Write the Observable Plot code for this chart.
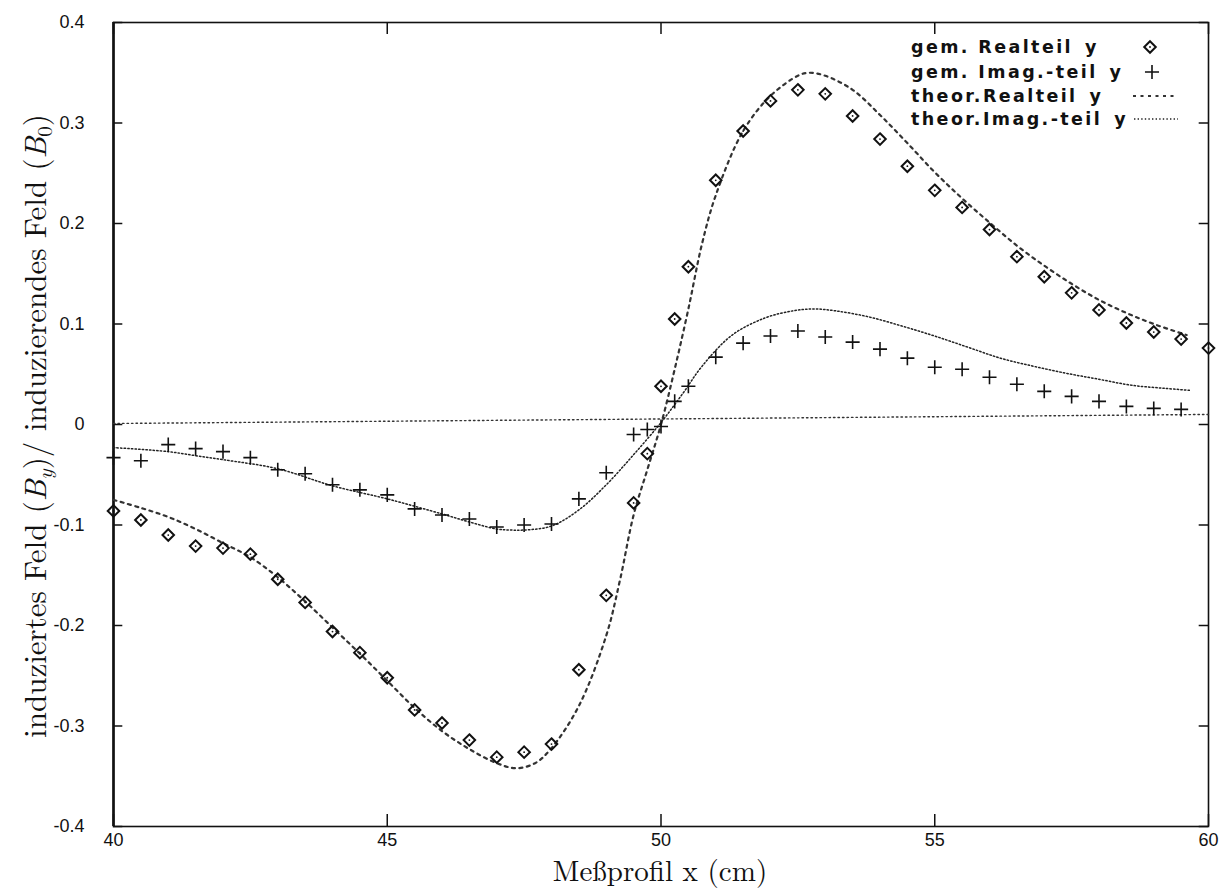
<!DOCTYPE html>
<html>
<head>
<meta charset="utf-8">
<script src="https://cdn.jsdelivr.net/npm/d3@7"></script>
<script src="https://cdn.jsdelivr.net/npm/@observablehq/plot@0.6"></script>
<style>
  html, body { margin: 0; padding: 0; background: #fff; }
  #chart { width: 1232px; height: 896px; }
</style>
</head>
<body>
<div id="chart"></div>
<script>
// ---- data ----
const measX = [40,40.5,41,41.5,42,42.5,43,43.5,44,44.5,45,45.5,46,46.5,47,47.5,48,48.5,49,49.5,49.75,50,50.25,50.5,51,51.5,52,52.5,53,53.5,54,54.5,55,55.5,56,56.5,57,57.5,58,58.5,59,59.5,60];
const realMeas = [-0.086,-0.095,-0.110,-0.121,-0.123,-0.129,-0.154,-0.177,-0.206,-0.227,-0.252,-0.284,-0.297,-0.314,-0.331,-0.326,-0.318,-0.244,-0.170,-0.078,-0.029,0.038,0.105,0.157,0.243,0.292,0.322,0.333,0.329,0.307,0.284,0.257,0.233,0.216,0.194,0.167,0.147,0.131,0.114,0.101,0.092,0.085,0.076];
const imagX = [40,40.5,41,41.5,42,42.5,43,43.5,44,44.5,45,45.5,46,46.5,47,47.5,48,48.5,49,49.5,49.75,50,50.25,50.5,51,51.5,52,52.5,53,53.5,54,54.5,55,55.5,56,56.5,57,57.5,58,58.5,59,59.5];
const imagMeas = [-0.033,-0.036,-0.020,-0.024,-0.027,-0.033,-0.045,-0.049,-0.060,-0.065,-0.070,-0.084,-0.090,-0.094,-0.102,-0.100,-0.099,-0.074,-0.048,-0.010,-0.005,-0.002,0.023,0.038,0.067,0.081,0.088,0.093,0.087,0.082,0.075,0.066,0.057,0.055,0.047,0.040,0.033,0.028,0.023,0.018,0.016,0.015];

const realTheoX = [40,40.5,41,41.5,42,42.5,43,43.5,44,44.5,45,45.5,46,46.5,47,47.35,47.7,48,48.5,49,49.25,49.5,49.75,50,50.25,50.5,50.75,51,51.5,52,52.5,52.7,53,53.5,54,54.5,55,55.5,56,56.5,57,57.5,58,58.5,59,59.6];
const realTheo = [-0.075,-0.083,-0.092,-0.104,-0.118,-0.132,-0.152,-0.176,-0.202,-0.228,-0.255,-0.282,-0.305,-0.323,-0.337,-0.342,-0.337,-0.322,-0.280,-0.210,-0.155,-0.090,-0.045,0.000,0.055,0.115,0.180,0.228,0.292,0.327,0.347,0.350,0.347,0.333,0.308,0.280,0.251,0.225,0.201,0.178,0.158,0.140,0.124,0.111,0.100,0.089];
const imagTheoX = [40,41,41.5,42,43,44,45,46,46.5,47,47.25,47.5,48,48.5,49,49.5,50,50.4,50.75,51.3,51.9,52.4,52.8,53.2,53.8,54.4,55,55.6,56.2,56.8,57.4,58,58.6,59.2,59.65];
const imagTheo = [-0.023,-0.027,-0.031,-0.035,-0.044,-0.061,-0.074,-0.089,-0.097,-0.104,-0.105,-0.105,-0.101,-0.085,-0.060,-0.030,0.002,0.031,0.058,0.089,0.106,0.113,0.115,0.113,0.107,0.098,0.088,0.077,0.066,0.058,0.051,0.045,0.039,0.036,0.034];
const zeroX = [40,60];
const zeroY = [0.001,0.010];

const xTicks = [40,45,50,55,60];
const yTicks = [-0.4,-0.3,-0.2,-0.1,0,0.1,0.2,0.3,0.4];

const legendNames = ["gem. Realteil","gem. Imag.-teil","theor.Realteil","theor.Imag.-teil"];
const legendVar = "y";

// ---- tables ----
const real = measX.map((x,i)=>({x, y: realMeas[i]}));
const imag = imagX.map((x,i)=>({x, y: imagMeas[i]}));
const rTheo = realTheoX.map((x,i)=>({x, y: realTheo[i]}));
const iTheo = imagTheoX.map((x,i)=>({x, y: imagTheo[i]}));
const zero = zeroX.map((x,i)=>({x, y: zeroY[i]}));

const fmtY = d => d === 0 ? "0" : d.toFixed(1);

const plot = Plot.plot({
  width: 1232,
  height: 896,
  marginLeft: 113,
  marginRight: 24,
  marginTop: 22,
  marginBottom: 70,
  style: {background: "#fff", color: "#111", fontFamily: "'Liberation Sans', Arial, sans-serif"},
  x: {domain: [40,60]},
  y: {domain: [-0.4,0.4]},
  marks: [
    Plot.axisX({ticks: xTicks, tickSize: 0, tickPadding: 7, fontSize: 18, label: null}),
    Plot.axisY({ticks: yTicks, tickSize: 0, tickPadding: 29, fontSize: 18, tickFormat: fmtY, label: null}),
    // inward ticks on all four sides
    Plot.ruleX(xTicks, {y1: -0.4, y2: -0.388, stroke: "#111", strokeWidth: 1.5}),
    Plot.ruleX(xTicks, {y1: 0.4, y2: 0.388, stroke: "#111", strokeWidth: 1.5}),
    Plot.ruleY(yTicks, {x1: 40, x2: 40.17, stroke: "#111", strokeWidth: 1.5}),
    Plot.ruleY(yTicks, {x1: 60, x2: 59.83, stroke: "#111", strokeWidth: 1.5}),
    Plot.frame({stroke: "#111", strokeWidth: 1.6}),
    Plot.ruleX([40], {stroke: "#111", strokeWidth: 2.6}),
    // zero line
    Plot.line(zero, {x: "x", y: "y", stroke: "#333", strokeWidth: 1.4, strokeDasharray: "1.5,3"}),
    // theory curves
    Plot.line(rTheo, {x: "x", y: "y", curve: "catmull-rom", stroke: "#333", strokeWidth: 2.2, strokeDasharray: "3,4.5"}),
    Plot.line(iTheo, {x: "x", y: "y", curve: "catmull-rom", stroke: "#222", strokeWidth: 1.5, strokeDasharray: "1.4,2.2"}),
    // measured
    Plot.dot(real, {x: "x", y: "y", symbol: "diamond2", r: 5.2, stroke: "#111", strokeWidth: 2, fill: "none"}),
    Plot.dot(real, {x: "x", y: "y", r: 0.9, fill: "#111", stroke: "none"}),
    Plot.dot(imag, {x: "x", y: "y", symbol: "plus", r: 4.6, stroke: "#111", strokeWidth: 1.6})
  ]
});

document.getElementById("chart").appendChild(plot);

// ---- axis titles and legend (text) ----
const svg = d3.select(plot);
const serif = "'Latin Modern Roman','CMU Serif','Liberation Serif','Times New Roman',serif";

svg.append("text")
  .attr("x", 660).attr("y", 881)
  .attr("text-anchor", "middle")
  .attr("font-family", serif).attr("font-size", 29).attr("fill", "#111")
  .text("Meßprofil x (cm)");

const yl = svg.append("text")
  .attr("transform", "translate(46,426) rotate(-90)")
  .attr("text-anchor", "middle")
  .attr("font-family", serif).attr("font-size", 31).attr("fill", "#111");
yl.append("tspan").text("induziertes Feld (");
yl.append("tspan").attr("font-style", "italic").text("B");
yl.append("tspan").attr("font-style", "italic").attr("font-size", 21).attr("dy", 6).text("y");
yl.append("tspan").attr("dy", -6).text(")/ induzierendes Feld (");
yl.append("tspan").attr("font-style", "italic").text("B");
yl.append("tspan").attr("font-size", 21).attr("dy", 6).text("0");
yl.append("tspan").attr("dy", -6).text(")");

const lg = svg.append("g").attr("font-family", "'DejaVu Sans', sans-serif").attr("font-weight", "bold")
  .attr("font-size", 17.5).attr("fill", "#111").attr("letter-spacing", 2.4).attr("text-anchor", "start");
const rows = [47, 72, 96, 119];
legendNames.forEach((t, i) => {
  const tx = lg.append("text").attr("x", 911).attr("y", rows[i] + 6).attr("text-anchor", "start");
  tx.append("tspan").text(t);
  tx.append("tspan").attr("dx", 12).text(legendVar);
});
// legend samples
lg.append("path").attr("d", d3.symbol(d3.symbolDiamond2, Math.PI*5.2*5.2)()).attr("transform", `translate(1150,${rows[0]})`)
  .attr("fill", "none").attr("stroke", "#111").attr("stroke-width", 2);
lg.append("circle").attr("cx", 1150).attr("cy", rows[0]).attr("r", 0.9).attr("fill", "#111");
lg.append("path").attr("d", d3.symbol(d3.symbolPlus, Math.PI*4.6*4.6)()).attr("transform", `translate(1152,${rows[1]})`)
  .attr("fill", "none").attr("stroke", "#111").attr("stroke-width", 1.6);
lg.append("line").attr("x1", 1133).attr("x2", 1178).attr("y1", rows[2]).attr("y2", rows[2])
  .attr("stroke", "#333").attr("stroke-width", 2.2).attr("stroke-dasharray", "3,4.5");
lg.append("line").attr("x1", 1134).attr("x2", 1178).attr("y1", rows[3]).attr("y2", rows[3])
  .attr("stroke", "#222").attr("stroke-width", 1.5).attr("stroke-dasharray", "1.4,2.2");
</script>
</body>
</html>
